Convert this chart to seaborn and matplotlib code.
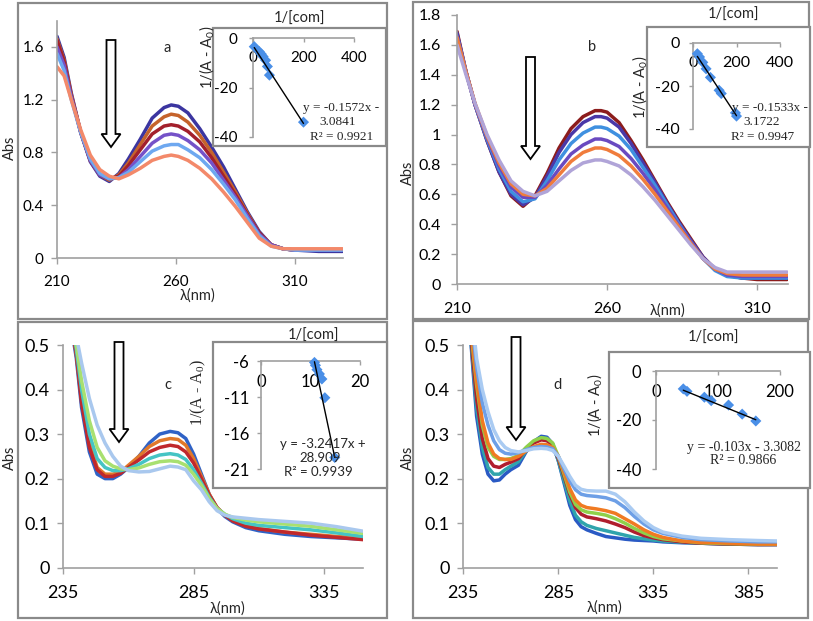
import numpy as np
import pandas as pd
import matplotlib
matplotlib.use("Agg")
import matplotlib.pyplot as plt
import seaborn as sns
from matplotlib.patches import Rectangle, Polygon

# ---------------- data ----------------
# panel a
A_WL = [210, 213, 216, 220, 224, 228, 232, 236, 240, 245, 250, 255, 258, 261, 265, 270, 275, 280, 285, 290, 295, 300, 305, 310, 320, 330]
A1 = [1.68, 1.52, 1.25, 0.95, 0.73, 0.62, 0.58, 0.64, 0.75, 0.90, 1.06, 1.14, 1.16, 1.15, 1.10, 0.98, 0.84, 0.69, 0.52, 0.35, 0.20, 0.10, 0.07, 0.06, 0.05, 0.05]
A2 = [1.66, 1.50, 1.24, 0.95, 0.74, 0.63, 0.59, 0.63, 0.72, 0.86, 1.00, 1.07, 1.09, 1.08, 1.03, 0.93, 0.80, 0.65, 0.50, 0.34, 0.19, 0.10, 0.07, 0.06, 0.06, 0.06]
A3 = [1.65, 1.49, 1.23, 0.95, 0.74, 0.63, 0.60, 0.62, 0.70, 0.82, 0.94, 1.00, 1.01, 1.00, 0.96, 0.88, 0.76, 0.62, 0.48, 0.33, 0.19, 0.10, 0.07, 0.06, 0.06, 0.06]
A4 = [1.60, 1.46, 1.22, 0.95, 0.74, 0.63, 0.60, 0.61, 0.67, 0.77, 0.87, 0.93, 0.94, 0.93, 0.89, 0.82, 0.72, 0.59, 0.46, 0.32, 0.18, 0.10, 0.07, 0.06, 0.06, 0.06]
A5 = [1.55, 1.42, 1.20, 0.95, 0.75, 0.64, 0.60, 0.61, 0.65, 0.73, 0.81, 0.85, 0.86, 0.86, 0.82, 0.76, 0.67, 0.56, 0.44, 0.30, 0.17, 0.09, 0.07, 0.06, 0.06, 0.06]
A6 = [1.45, 1.38, 1.20, 0.97, 0.78, 0.67, 0.62, 0.60, 0.63, 0.68, 0.74, 0.77, 0.78, 0.77, 0.74, 0.68, 0.60, 0.50, 0.39, 0.27, 0.15, 0.09, 0.07, 0.07, 0.07, 0.07]
A_COLORS = ["#3b35a0", "#c5632b", "#a3202c", "#7552c8", "#6ea8f0", "#f3896a"]

# panel b
B_WL = [210, 213, 216, 220, 224, 228, 232, 236, 240, 244, 248, 252, 256, 258, 260, 264, 268, 272, 276, 280, 284, 288, 292, 296, 300, 305, 310, 320]
B1 = [1.69, 1.42, 1.20, 0.96, 0.75, 0.59, 0.52, 0.59, 0.74, 0.91, 1.04, 1.12, 1.16, 1.16, 1.15, 1.08, 0.96, 0.83, 0.69, 0.55, 0.42, 0.30, 0.18, 0.10, 0.06, 0.04, 0.03, 0.03]
B2 = [1.68, 1.42, 1.20, 0.96, 0.75, 0.60, 0.53, 0.58, 0.72, 0.88, 1.00, 1.08, 1.12, 1.12, 1.11, 1.05, 0.94, 0.81, 0.68, 0.54, 0.41, 0.29, 0.18, 0.10, 0.06, 0.04, 0.04, 0.04]
B3 = [1.66, 1.42, 1.20, 0.97, 0.77, 0.62, 0.55, 0.57, 0.69, 0.83, 0.94, 1.01, 1.05, 1.05, 1.04, 0.99, 0.90, 0.78, 0.66, 0.53, 0.40, 0.28, 0.17, 0.09, 0.05, 0.04, 0.04, 0.04]
B4 = [1.66, 1.42, 1.20, 0.98, 0.79, 0.65, 0.58, 0.58, 0.66, 0.77, 0.87, 0.93, 0.97, 0.97, 0.96, 0.92, 0.84, 0.74, 0.63, 0.51, 0.39, 0.28, 0.17, 0.10, 0.06, 0.05, 0.05, 0.05]
B5 = [1.65, 1.42, 1.21, 0.99, 0.81, 0.67, 0.60, 0.59, 0.64, 0.73, 0.82, 0.88, 0.91, 0.91, 0.90, 0.86, 0.79, 0.70, 0.60, 0.49, 0.38, 0.27, 0.17, 0.10, 0.07, 0.06, 0.06, 0.06]
B6 = [1.60, 1.40, 1.21, 1.00, 0.83, 0.69, 0.62, 0.59, 0.62, 0.69, 0.76, 0.81, 0.83, 0.83, 0.82, 0.79, 0.73, 0.65, 0.56, 0.46, 0.36, 0.26, 0.17, 0.11, 0.08, 0.08, 0.08, 0.08]
B_COLORS = ["#8c1c1c", "#4a38a8", "#3f90e0", "#6a4ac0", "#f07c3c", "#b0a4d8"]

# panel c
C_WL = [236, 240, 242, 245, 248, 251, 254, 257, 260, 264, 268, 272, 276, 279, 282, 285, 288, 291, 294, 297, 300, 305, 310, 320, 330, 340, 350]
C1 = [0.62, 0.47, 0.36, 0.26, 0.21, 0.20, 0.20, 0.21, 0.225, 0.25, 0.28, 0.30, 0.306, 0.303, 0.29, 0.255, 0.21, 0.165, 0.133, 0.115, 0.103, 0.09, 0.083, 0.075, 0.07, 0.067, 0.064]
C2 = [0.62, 0.48, 0.38, 0.28, 0.225, 0.21, 0.21, 0.215, 0.23, 0.25, 0.272, 0.285, 0.29, 0.288, 0.275, 0.245, 0.205, 0.165, 0.135, 0.118, 0.107, 0.095, 0.088, 0.08, 0.075, 0.07, 0.067]
C3 = [0.62, 0.48, 0.37, 0.27, 0.22, 0.205, 0.205, 0.212, 0.225, 0.242, 0.26, 0.27, 0.275, 0.272, 0.26, 0.235, 0.20, 0.163, 0.135, 0.118, 0.105, 0.093, 0.087, 0.08, 0.073, 0.068, 0.063]
C4 = [0.63, 0.49, 0.40, 0.30, 0.245, 0.225, 0.218, 0.218, 0.222, 0.232, 0.245, 0.253, 0.256, 0.253, 0.243, 0.22, 0.19, 0.158, 0.133, 0.12, 0.11, 0.10, 0.095, 0.09, 0.085, 0.078, 0.07]
C5 = [0.64, 0.50, 0.42, 0.33, 0.27, 0.24, 0.228, 0.222, 0.22, 0.224, 0.232, 0.238, 0.24, 0.238, 0.23, 0.21, 0.185, 0.155, 0.133, 0.12, 0.113, 0.107, 0.103, 0.098, 0.093, 0.085, 0.077]
C6 = [0.66, 0.52, 0.46, 0.38, 0.32, 0.28, 0.25, 0.228, 0.218, 0.215, 0.216, 0.222, 0.228, 0.226, 0.22, 0.195, 0.175, 0.148, 0.128, 0.118, 0.114, 0.111, 0.108, 0.104, 0.10, 0.092, 0.082]
C_COLORS = ["#2f62c6", "#e0782a", "#c0282c", "#45c4c4", "#a8e070", "#a9c8ee"]

# panel d
D_WL = [237, 240, 242, 245, 248, 251, 254, 257, 260, 264, 268, 272, 276, 279, 282, 285, 288, 291, 294, 297, 300, 305, 310, 315, 320, 325, 330, 335, 340, 350, 360, 375, 390, 400]
D1 = [0.62, 0.45, 0.34, 0.255, 0.21, 0.195, 0.197, 0.21, 0.22, 0.23, 0.26, 0.283, 0.295, 0.293, 0.278, 0.24, 0.19, 0.14, 0.108, 0.092, 0.085, 0.077, 0.07, 0.067, 0.064, 0.062, 0.061, 0.06, 0.058, 0.056, 0.055, 0.053, 0.052, 0.052]
D2 = [0.62, 0.46, 0.36, 0.27, 0.225, 0.21, 0.21, 0.22, 0.228, 0.238, 0.262, 0.283, 0.292, 0.29, 0.277, 0.24, 0.195, 0.15, 0.118, 0.103, 0.095, 0.088, 0.083, 0.078, 0.073, 0.068, 0.065, 0.062, 0.06, 0.057, 0.055, 0.053, 0.052, 0.052]
D3 = [0.62, 0.47, 0.38, 0.29, 0.245, 0.228, 0.225, 0.232, 0.237, 0.245, 0.265, 0.28, 0.287, 0.285, 0.275, 0.245, 0.205, 0.165, 0.135, 0.12, 0.114, 0.11, 0.105, 0.098, 0.09, 0.08, 0.072, 0.067, 0.063, 0.058, 0.055, 0.053, 0.052, 0.052]
D4 = [0.63, 0.49, 0.41, 0.32, 0.27, 0.25, 0.243, 0.243, 0.245, 0.252, 0.27, 0.285, 0.292, 0.29, 0.28, 0.25, 0.21, 0.17, 0.142, 0.13, 0.125, 0.122, 0.118, 0.11, 0.10, 0.088, 0.078, 0.07, 0.065, 0.06, 0.056, 0.054, 0.053, 0.053]
D5 = [0.64, 0.50, 0.42, 0.33, 0.28, 0.255, 0.245, 0.243, 0.243, 0.25, 0.262, 0.272, 0.277, 0.276, 0.27, 0.25, 0.215, 0.178, 0.152, 0.14, 0.135, 0.132, 0.128, 0.122, 0.11, 0.098, 0.085, 0.075, 0.068, 0.06, 0.057, 0.055, 0.053, 0.053]
D6 = [0.66, 0.53, 0.45, 0.37, 0.32, 0.285, 0.265, 0.257, 0.255, 0.258, 0.265, 0.27, 0.272, 0.271, 0.267, 0.25, 0.222, 0.195, 0.175, 0.165, 0.162, 0.16, 0.157, 0.15, 0.135, 0.115, 0.098, 0.085, 0.077, 0.068, 0.063, 0.06, 0.058, 0.058]
D7 = [0.67, 0.55, 0.47, 0.40, 0.35, 0.31, 0.285, 0.27, 0.263, 0.26, 0.263, 0.267, 0.268, 0.267, 0.263, 0.25, 0.228, 0.205, 0.185, 0.176, 0.173, 0.172, 0.172, 0.165, 0.148, 0.125, 0.105, 0.09, 0.08, 0.071, 0.066, 0.063, 0.061, 0.06]
D_COLORS = ["#2a5ac4", "#30a4ac", "#b01e2e", "#8ed04a", "#f07a22", "#6d9fe6", "#aacbf2"]

# insets: 1/[com] vs 1/(A - A0)
INS_A_X = [5, 25, 33, 40, 50, 57, 65, 200]
INS_A_Y = [-3.5, -5.5, -6.5, -7.5, -9, -11.5, -15, -34]
INS_B_X = [20, 30, 45, 60, 80, 120, 130, 195, 200]
INS_B_Y = [-5, -6.5, -9, -12, -16, -22, -23.5, -32.5, -34]
INS_C_X = [10.8, 11.0, 11.3, 11.8, 12.3, 12.9, 14.9]
INS_C_Y = [-6.2, -6.6, -7.2, -7.8, -8.5, -11.1, -19.4]
INS_D_X = [44, 50, 78, 89, 117, 139, 161]
INS_D_Y = [-7.3, -8.3, -10.7, -12.1, -13.9, -17.6, -20.4]
FIT_A = (-0.1572, -3.0841)
FIT_B = (-0.1533, -3.1722)
FIT_C = (-3.2417, 28.909)
FIT_D = (-0.103, -3.3082)

# ---------------- style ----------------
sns.set_theme(style="white")
SANS = ["Lato", "DejaVu Sans"]
SERIF = ["Liberation Serif", "DejaVu Serif"]
plt.rcParams["font.family"] = SANS

W, H = 813, 621
fig = plt.figure(figsize=(W / 100, H / 100), dpi=100)
fig.patch.set_facecolor("white")

GRAY = "#8a8a8a"
AXGRAY = "#a0a0a0"
PT = "#4a8fe7"


def frect(x0, y0, x1, y1):
    return [x0 / W, 1 - y1 / H, (x1 - x0) / W, (y1 - y0) / H]


def fig_box(x0, y0, x1, y1, face="none", z=1, lw=1.6):
    fig.add_artist(Rectangle((x0 / W, 1 - y1 / H), (x1 - x0) / W, (y1 - y0) / H,
                             transform=fig.transFigure, facecolor=face,
                             edgecolor=GRAY, lw=lw, zorder=z))


def fig_arrow(cx, ytop, ytip, w=4.5, hw=9.5, hl=13):
    pts = [(cx - w, ytop), (cx + w, ytop), (cx + w, ytip - hl), (cx + hw, ytip - hl),
           (cx, ytip), (cx - hw, ytip - hl), (cx - w, ytip - hl)]
    fig.add_artist(Polygon([(x / W, 1 - y / H) for x, y in pts], closed=True,
                           transform=fig.transFigure, facecolor="white",
                           edgecolor="black", lw=1.3, zorder=4))


def ftext(x, y, s, size, family=SANS, z=6):
    fig.text(x / W, 1 - y / H, s, fontsize=size, family=family,
             ha="center", va="center", zorder=z)


def main_panel(box, wl, curves, colors, xlim, ylim, xticks, yticks, fs,
               xpad, ypad, abs_xy, lam_xy):
    x0, y0, x1, y1 = box
    ax = fig.add_axes(frect(x0, y0, x1, y1))
    names = [f"s{i + 1}" for i in range(len(curves))]
    df = pd.concat([pd.DataFrame({"wl": wl, "A": v, "curve": n})
                    for n, v in zip(names, curves)], ignore_index=True)
    sns.lineplot(data=df, x="wl", y="A", hue="curve",
                 palette=dict(zip(names, colors)), estimator=None, sort=False,
                 legend=False, lw=2.5, ax=ax)
    ax.set_xlim(*xlim)
    ax.set_ylim(*ylim)
    ax.set_xticks(xticks)
    ax.set_xticklabels([f"{v:g}" for v in xticks])
    ax.set_yticks(yticks)
    ax.set_yticklabels([f"{round(v, 2):g}" for v in yticks])
    for s in ["top", "right"]:
        ax.spines[s].set_visible(False)
    for s in ["left", "bottom"]:
        ax.spines[s].set_color(AXGRAY)
        ax.spines[s].set_linewidth(1.2)
    ax.tick_params(axis="both", labelsize=fs, length=4, width=1,
                   direction="out", color=AXGRAY, labelcolor="black")
    ax.tick_params(axis="x", pad=xpad, bottom=True)
    ax.tick_params(axis="y", pad=ypad, left=True)
    ax.set_facecolor("none")
    ax.set_xlabel("λ(nm)", fontsize=10.5)
    ax.set_ylabel("Abs", fontsize=10.5)
    ax.xaxis.label.set_va("center")
    ax.yaxis.label.set_va("center")
    ax.xaxis.set_label_coords((lam_xy[0] - x0) / (x1 - x0), (y1 - lam_xy[1]) / (y1 - y0))
    ax.yaxis.set_label_coords((abs_xy[0] - x0) / (x1 - x0), (y1 - abs_xy[1]) / (y1 - y0))
    return ax


def inset(box, axbox, xs, ys, fit, xlim, ylim, xticks, yticks, fs, xpad, ypad,
          title_xy, ylab_xy, ylab_family, ylab_fs, eq, eq_family, eq_fs):
    fig_box(*box, face="white", z=2)
    x0, y0, x1, y1 = axbox
    ax = fig.add_axes(frect(x0, y0, x1, y1))
    ax.set_zorder(5)
    ax.patch.set_alpha(0)
    pts = pd.DataFrame({"x": xs, "y": ys})
    sns.scatterplot(data=pts, x="x", y="y", marker="D", s=32, color=PT,
                    edgecolor="none", ax=ax, clip_on=False, zorder=3)
    xx = np.array([min(xs), max(xs)])
    line = pd.DataFrame({"x": xx, "y": fit[0] * xx + fit[1]})
    sns.lineplot(data=line, x="x", y="y", color="black", lw=1.0, ax=ax, zorder=4)
    ax.set_xlim(*xlim)
    ax.set_ylim(*ylim)
    ax.set_xticks(xticks)
    ax.set_xticklabels([f"{v:g}" for v in xticks])
    ax.set_yticks(yticks)
    ax.set_yticklabels([f"{v:g}" for v in yticks])
    for s in ["top", "right"]:
        ax.spines[s].set_visible(False)
    ax.spines["bottom"].set_position(("data", ylim[1]))
    for s in ["left", "bottom"]:
        ax.spines[s].set_color(AXGRAY)
        ax.spines[s].set_linewidth(1.2)
    ax.tick_params(axis="both", labelsize=fs, length=3, width=1,
                   direction="out", color=AXGRAY, labelcolor="black")
    ax.tick_params(axis="x", pad=xpad, bottom=True)
    ax.tick_params(axis="y", pad=ypad, left=True)
    ax.set_xlabel("")
    ax.set_ylabel("1/(A - A$\\mathregular{_0}$)", fontsize=ylab_fs, family=ylab_family)
    ax.yaxis.label.set_va("center")
    ax.yaxis.set_label_coords((ylab_xy[0] - x0) / (x1 - x0), (y1 - ylab_xy[1]) / (y1 - y0))
    ftext(title_xy[0], title_xy[1], "1/[com]", 10.5)
    for (tx, ty, s) in eq:
        ftext(tx, ty, s, eq_fs, family=eq_family)
    return ax


# ---------------- panel frames ----------------
fig_box(18, 3, 387, 319)
fig_box(413, 2, 809, 319)
fig_box(18, 322, 387, 618)
fig_box(413, 321, 808, 618)

# ---------------- panel a ----------------
main_panel((57, 20.5, 343, 258), A_WL, [A1, A2, A3, A4, A5, A6], A_COLORS,
           (210, 330.2), (0, 1.8), [210, 260, 310], [0, 0.4, 0.8, 1.2, 1.6],
           11, 8.5, 5.5, (10, 148), (198, 296))
inset((213, 28, 386, 146), (253, 38, 354, 137), INS_A_X, INS_A_Y, FIT_A,
      (0, 400), (-40, 0), [0, 200, 400], [0, -20, -40], 11, 6.5, 8,
      (299, 19), (207, 57), SANS, 10.5,
      [(341, 108, "y = -0.1572x -"), (338, 122, "3.0841"), (342, 137, "R² = 0.9921")],
      SERIF, 9.5)
ftext(167, 48, "a", 10.5)
fig_arrow(111, 40, 147)

# ---------------- panel b ----------------
main_panel((457, 15, 788, 284), B_WL, [B1, B2, B3, B4, B5, B6], B_COLORS,
           (210, 320.3), (0, 1.8), [210, 260, 310],
           [0, 0.2, 0.4, 0.6, 0.8, 1.0, 1.2, 1.4, 1.6, 1.8],
           11.5, 9, 7.5, (408, 173), (668, 311))
inset((647, 27, 810, 147), (693, 43, 780, 129), INS_B_X, INS_B_Y, FIT_B,
      (0, 400), (-40, 0), [0, 200, 400], [0, -20, -40], 11.5, 6.5, 6.5,
      (733, 15), (640, 87), SANS, 10.5,
      [(770, 108, "y = -0.1533x -"), (762, 122, "3.1722"), (763, 137, "R² = 0.9947")],
      SERIF, 9.5)
ftext(592, 47, "b", 10.5)
fig_arrow(530.5, 57, 159)

# ---------------- panel c ----------------
main_panel((63.3, 345, 363, 567.7), C_WL, [C1, C2, C3, C4, C5, C6], C_COLORS,
           (235, 350), (0, 0.5), [235, 285, 335], [0, 0.1, 0.2, 0.3, 0.4, 0.5],
           13, 8.8, 6, (10, 458), (228, 609))
inset((213, 342, 387, 488), (261, 361, 360, 469), INS_C_X, INS_C_Y, FIT_C,
      (0, 20), (-21, -6), [0, 10, 20], [-6, -11, -16, -21], 12, 6.5, 5.5,
      (313, 336), (198, 393), SERIF, 11.5,
      [(323, 444, "y = -3.2417x +"), (320, 458, "28.909"), (318, 472, "R² = 0.9939")],
      SANS, 9.5)
ftext(168, 385, "c", 10.5)
fig_arrow(119, 342, 442)

# ---------------- panel d ----------------
main_panel((463.3, 345, 777, 567.7), D_WL, [D1, D2, D3, D4, D5, D6, D7], D_COLORS,
           (235, 400), (0, 0.5), [235, 285, 335, 385], [0, 0.1, 0.2, 0.3, 0.4, 0.5],
           13, 8.8, 6, (408, 458), (605, 608))
inset((609, 352, 810, 488), (656, 371, 780, 469), INS_D_X, INS_D_Y, FIT_D,
      (0, 200), (-40, 0), [0, 100, 200], [0, -20, -40], 12, 6.5, 7.5,
      (713, 338), (595, 405), SANS, 10.5,
      [(744, 448, "y = -0.103x - 3.3082"), (743, 461, "R² = 0.9866")],
      SERIF, 10)
ftext(557, 385, "d", 10.5)
fig_arrow(516, 337, 440)

fig.savefig("out.png", dpi=100, facecolor="white")
